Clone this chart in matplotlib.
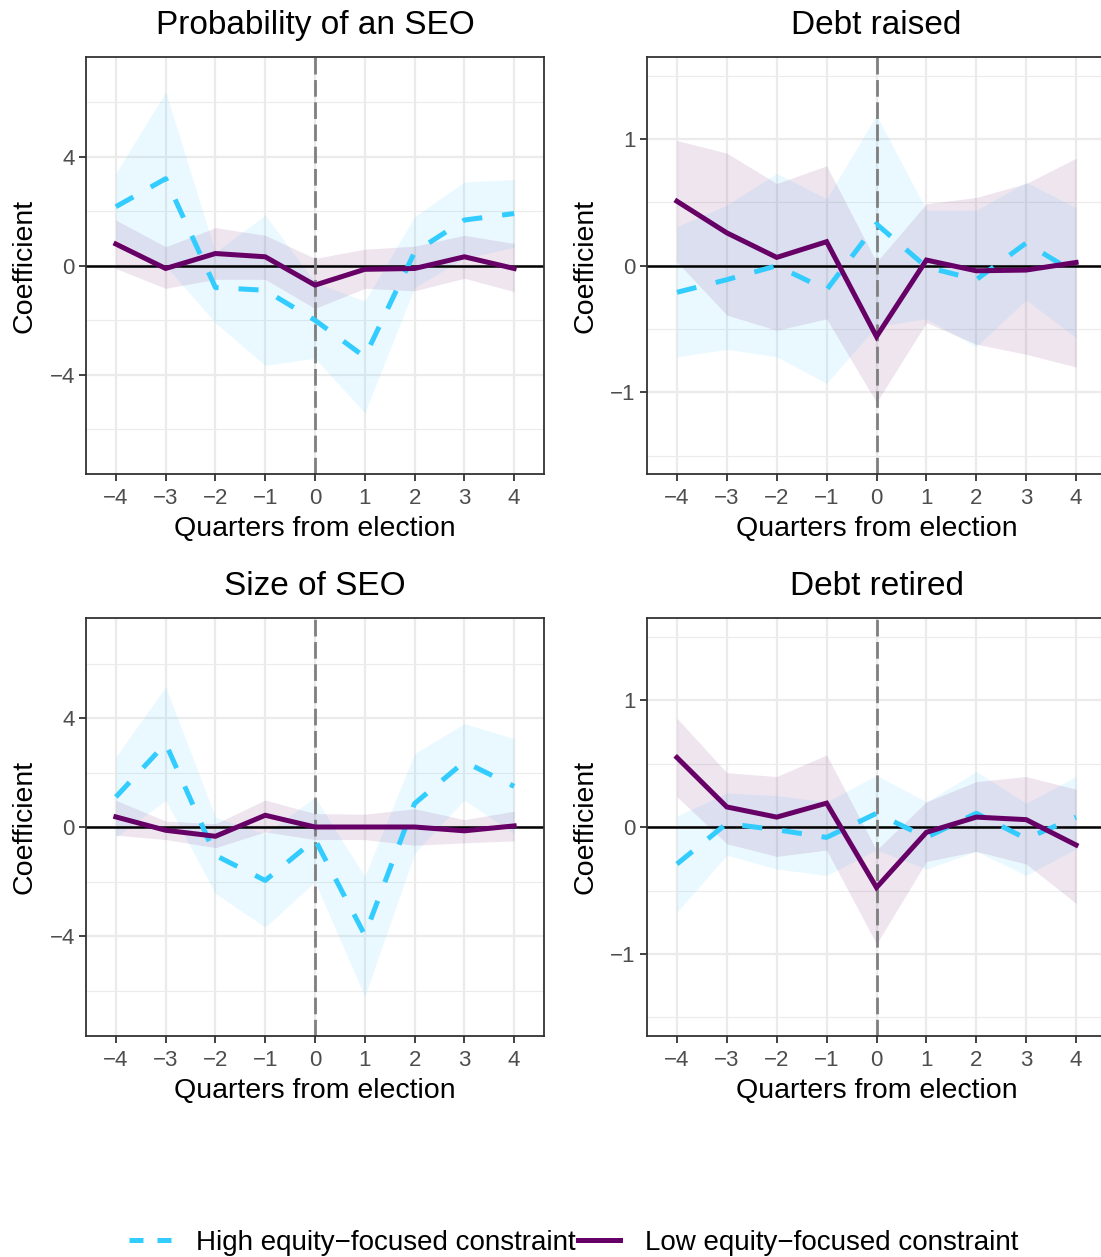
import matplotlib
matplotlib.use("Agg")
import matplotlib.pyplot as plt
from matplotlib.lines import Line2D

plt.rcParams['font.family'] = ['Liberation Sans', 'DejaVu Sans']

quarters = [-4, -3, -2, -1, 0, 1, 2, 3, 4]
titles = ['Probability of an SEO', 'Debt raised', 'Size of SEO', 'Debt retired']

# Probability of an SEO
seo_high = [2.17, 3.2, -0.8, -0.9, -2.0, -3.35, 0.5, 1.68, 1.92]
seo_high_lo = [0.95, 0.0, -2.1, -3.66, -3.4, -5.4, -0.8, 0.28, 0.67]
seo_high_hi = [3.39, 6.39, 0.5, 1.86, -0.6, -1.3, 1.8, 3.08, 3.17]
seo_low = [0.8, -0.1, 0.45, 0.33, -0.71, -0.13, -0.1, 0.33, -0.1]
seo_low_lo = [-0.1, -0.83, -0.5, -0.5, -1.57, -0.83, -0.92, -0.46, -0.95]
seo_low_hi = [1.68, 0.7, 1.4, 1.12, 0.27, 0.61, 0.72, 1.12, 0.82]

# Debt raised
raised_high = [-0.21, -0.11, 0.0, -0.19, 0.33, -0.01, -0.11, 0.18, -0.06]
raised_high_lo = [-0.72, -0.66, -0.72, -0.93, -0.48, -0.42, -0.64, -0.27, -0.57]
raised_high_hi = [0.31, 0.48, 0.73, 0.53, 1.19, 0.44, 0.44, 0.66, 0.46]
raised_low = [0.51, 0.26, 0.066, 0.19, -0.56, 0.045, -0.04, -0.034, 0.026]
raised_low_lo = [0.03, -0.39, -0.51, -0.42, -1.08, -0.45, -0.62, -0.70, -0.80]
raised_low_hi = [0.99, 0.89, 0.65, 0.79, 0.03, 0.49, 0.54, 0.65, 0.85]

# Size of SEO
size_high = [1.11, 3.07, -1.03, -1.95, -0.45, -3.95, 0.87, 2.4, 1.5]
size_high_lo = [-0.36, 0.99, -2.43, -3.66, -2.0, -6.2, -0.96, 1.0, -0.25]
size_high_hi = [2.58, 5.15, 0.37, -0.24, 1.1, -1.8, 2.7, 3.8, 3.25]
size_low = [0.38, -0.11, -0.33, 0.44, 0.01, 0.01, 0.01, -0.13, 0.05]
size_low_lo = [-0.29, -0.45, -0.75, -0.17, -0.45, -0.45, -0.66, -0.57, -0.5]
size_low_hi = [0.99, 0.23, 0.13, 1.0, 0.5, 0.48, 0.68, 0.28, 0.59]

# Debt retired
retired_high = [-0.29, 0.03, -0.02, -0.08, 0.11, -0.08, 0.11, -0.09, 0.08]
retired_high_lo = [-0.67, -0.22, -0.33, -0.38, -0.18, -0.33, -0.19, -0.38, -0.17]
retired_high_hi = [0.09, 0.27, 0.25, 0.2, 0.41, 0.2, 0.44, 0.19, 0.4]
retired_low = [0.55, 0.16, 0.08, 0.19, -0.475, -0.04, 0.08, 0.06, -0.14]
retired_low_lo = [0.24, -0.13, -0.23, -0.18, -0.92, -0.27, -0.19, -0.29, -0.6]
retired_low_hi = [0.86, 0.43, 0.4, 0.57, -0.18, 0.2, 0.36, 0.4, 0.3]

panels = [
    (seo_high, seo_high_lo, seo_high_hi, seo_low, seo_low_lo, seo_low_hi),
    (raised_high, raised_high_lo, raised_high_hi, raised_low, raised_low_lo, raised_low_hi),
    (size_high, size_high_lo, size_high_hi, size_low, size_low_lo, size_low_hi),
    (retired_high, retired_high_lo, retired_high_hi, retired_low, retired_low_lo, retired_low_hi),
]

blue = '#33CCFF'
purple = '#660066'

W, H = 1101, 1257
fig = plt.figure(figsize=(W / 100, H / 100), dpi=100)

# panel boxes in pixels: left, top, right, bottom
boxes = [(86, 57, 544, 474), (647, 57, 1106, 474),
         (86, 618, 544, 1036), (647, 618, 1106, 1036)]
big = [True, False, True, False]

for i, (l, t, r, b) in enumerate(boxes):
    ax = fig.add_axes([l / W, 1 - b / H, (r - l) / W, (b - t) / H])
    hi, hi_lo, hi_hi, lo, lo_lo, lo_hi = panels[i]

    ax.fill_between(quarters, hi_lo, hi_hi, color=blue, alpha=0.1, lw=0)
    ax.fill_between(quarters, lo_lo, lo_hi, color=purple, alpha=0.1, lw=0)
    ax.axhline(0, color='black', lw=1.8, zorder=2)
    ax.axvline(0, color='#7F7F7F', lw=2.0, ls=(0, (6, 2)), zorder=2)
    ax.plot(quarters, hi, color=blue, lw=3.6, ls=(0, (4, 4)), zorder=3)
    ax.plot(quarters, lo, color=purple, lw=3.6, zorder=4,
            solid_joinstyle='miter')

    ax.set_xlim(-4.6, 4.6)
    ax.set_xticks(quarters)
    ax.set_xticklabels([str(q).replace('-', '\u2212') for q in quarters])
    if big[i]:
        ax.set_ylim(-7.65, 7.67)
        ax.set_yticks([-4, 0, 4])
        ax.set_yticklabels(['\u22124', '0', '4'])
        ax.set_yticks([-6, -2, 2, 6], minor=True)
    else:
        ax.set_ylim(-1.646, 1.65)
        ax.set_yticks([-1, 0, 1])
        ax.set_yticklabels(['\u22121', '0', '1'])
        ax.set_yticks([-1.5, -0.5, 0.5, 1.5], minor=True)

    ax.grid(True, which='major', color='#EBEBEB', lw=1.6, zorder=0)
    ax.grid(True, which='minor', axis='y', color='#EBEBEB', lw=0.8, zorder=0)
    ax.set_axisbelow(True)
    for s in ax.spines.values():
        s.set_color('#333333')
        s.set_linewidth(1.3)
    ax.tick_params(which='major', length=5, width=1.3, color='#333333',
                   labelsize=16, labelcolor='#4D4D4D')
    ax.tick_params(axis='x', which='major', pad=5)
    ax.tick_params(axis='y', which='major', pad=3)
    ax.tick_params(which='minor', length=0)

    ax.set_title(titles[i], fontsize=24, pad=16.5)
    ax.set_xlabel('Quarters from election', fontsize=20.5, labelpad=5)
    ax.set_ylabel('Coefficient', fontsize=20.5, labelpad=8.5)

handles = [Line2D([], [], color=blue, lw=3.6, ls=(0, (2.8, 2.8))),
           Line2D([], [], color=purple, lw=3.6)]
fig.legend(handles, ['High equity\u2212focused constraint', 'Low equity\u2212focused constraint'],
           loc='center', bbox_to_anchor=(0.521, 0.011), ncol=2, frameon=False,
           fontsize=20, handlelength=1.5, handletextpad=0.9, columnspacing=0.1)

fig.savefig('out.png', dpi=100)
